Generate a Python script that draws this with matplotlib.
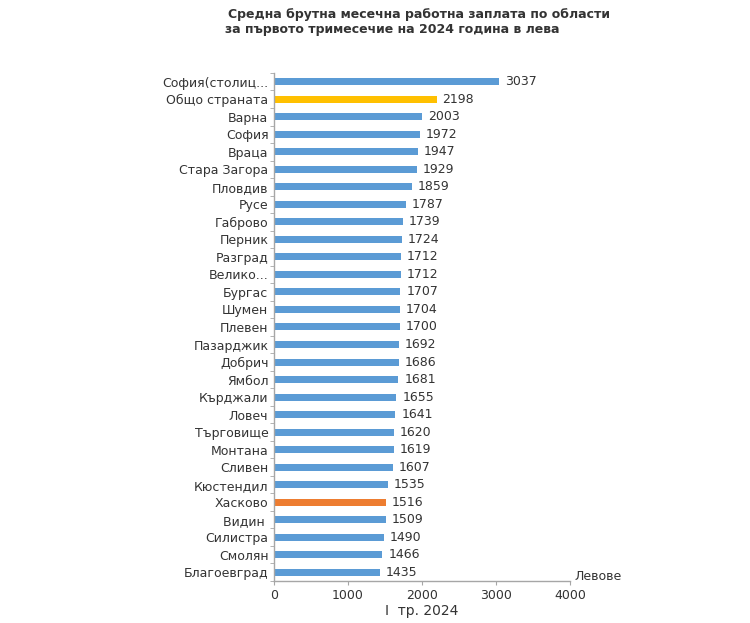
import matplotlib.pyplot as plt
import numpy as np

# Data (top to bottom as shown)
regions = ['София(столиц...', 'Общо страната', 'Варна', 'София', 'Враца', 'Стара Загора',
           'Пловдив', 'Русе', 'Габрово', 'Перник', 'Разград', 'Велико...', 'Бургас',
           'Шумен', 'Плевен', 'Пазарджик', 'Добрич', 'Ямбол', 'Кърджали', 'Ловеч',
           'Търговище', 'Монтана', 'Сливен', 'Кюстендил', 'Хасково', 'Видин ',
           'Силистра', 'Смолян', 'Благоевград']
salaries = [3037, 2198, 2003, 1972, 1947, 1929, 1859, 1787, 1739, 1724, 1712, 1712, 1707,
            1704, 1700, 1692, 1686, 1681, 1655, 1641, 1620, 1619, 1607, 1535, 1516, 1509,
            1490, 1466, 1435]
x_ticks = [0, 1000, 2000, 3000, 4000]

blue = '#5B9BD5'
gold = '#FFC000'
orange = '#ED7D31'
bar_colors = [blue] * len(regions)
bar_colors[regions.index('Общо страната')] = gold
bar_colors[regions.index('Хасково')] = orange

axis_color = '#A6A6A6'
text_color = '#333333'

fig = plt.figure(figsize=(7.5, 6.23), dpi=100)
ax = fig.add_axes([0.3653, 0.0674, 0.3947, 0.8155])

y = np.arange(len(regions))
ax.barh(y, salaries, height=0.4, color=bar_colors, zorder=2)

for yi, v in zip(y, salaries):
    ax.text(v + 80, yi, str(v), va='center', ha='left', fontsize=9, color=text_color)

ax.set_xlim(0, 4000)
ax.set_ylim(len(regions) - 0.5, -0.5)
ax.set_xticks(x_ticks)
ax.set_xticklabels([str(t) for t in x_ticks], fontsize=9, color=text_color)
ax.set_yticks(y)
ax.set_yticklabels(regions, fontsize=9, color=text_color)
ax.tick_params(axis='y', length=0, pad=4)
ax.tick_params(axis='x', length=3, color=axis_color, pad=3)

# category boundary ticks on the left spine
ax.set_yticks(np.arange(-0.5, len(regions), 1), minor=True)
ax.tick_params(axis='y', which='minor', length=3, color=axis_color)

for s in ['top', 'right']:
    ax.spines[s].set_visible(False)
for s in ['left', 'bottom']:
    ax.spines[s].set_color(axis_color)
    ax.spines[s].set_linewidth(1)

ax.text(1.015, 0.008, 'Левове', transform=ax.transAxes, ha='left', va='center',
        fontsize=9, color=text_color)
ax.set_xlabel('I  тр. 2024', fontsize=10, color=text_color, labelpad=1)

fig.text(0.304, 0.987, 'Средна брутна месечна работна заплата по области',
         ha='left', va='top', fontsize=9, fontweight='bold', color=text_color)
fig.text(0.300, 0.963, 'за първото тримесечие на 2024 година в лева',
         ha='left', va='top', fontsize=9, fontweight='bold', color=text_color)

fig.savefig('out.png', dpi=100)
